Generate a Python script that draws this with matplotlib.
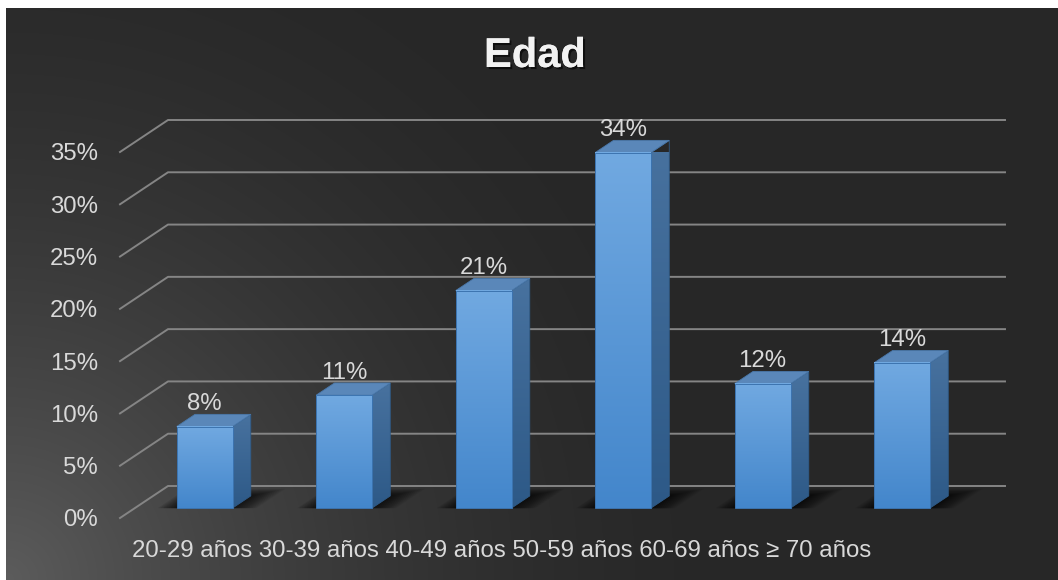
import numpy as np
import matplotlib
matplotlib.use('Agg')
import matplotlib.pyplot as plt
import matplotlib.patheffects as pe
from matplotlib.colors import LinearSegmentedColormap
from matplotlib.patches import Polygon
from matplotlib.ticker import PercentFormatter

categories = ['20-29 años', '30-39 años', '40-49 años', '50-59 años', '60-69 años', '≥ 70 años']
values = [7.8, 10.8, 20.8, 34.0, 11.9, 13.9]
value_labels = ['8%', '11%', '21%', '34%', '12%', '14%']
yticks = [0, 5, 10, 15, 20, 25, 30, 35]
title = 'Edad'

W, H = 1058, 580
# oblique offset of the back wall (in data units: categories / percent)
DX, DY = 48 / 139.5, 32 / 10.457
T0, T1 = 0.31, 0.69      # bar depth (front, back)
BW = 0.4                 # bar width in categories
TXT = '#d9d9d9'
FS = 17.3


def proj(x, y, t):
    return x + t * DX, y + t * DY


plt.rcParams['font.family'] = ['Liberation Sans', 'DejaVu Sans']

fig = plt.figure(figsize=(W / 100, H / 100), dpi=100, facecolor='white')

# dark background with a lighter glow from the lower left corner
bg = fig.add_axes([6 / W, 0, (W - 6) / W, (H - 8) / H])
bw, bh = W - 6, H - 8
xx, yy = np.meshgrid(np.arange(bw), np.arange(bh))
r = np.sqrt(xx ** 2 + (bh - yy) ** 2) / 750
g = (0x27 + (0x5c - 0x27) * np.clip(1 - r, 0, 1) ** 1.8) / 255
bg.imshow(np.dstack([g, g, g]), aspect='auto', extent=[0, 1, 0, 1])
bg.set_axis_off()

ax = fig.add_axes([120 / W, 62 / H, 837 / W, 366 / H])
ax.patch.set_alpha(0)
for s in ax.spines.values():
    s.set_visible(False)

# gridlines: diagonal on the side, horizontal on the back wall
for v in yticks:
    ax.plot([0, DX, len(categories) + DX], [v, v + DY, v + DY],
            color='#858585', lw=1.4, clip_on=False, zorder=1)

front_cmap = LinearSegmentedColormap.from_list('front', ['#71a9e1', '#4386cb'])
side_cmap = LinearSegmentedColormap.from_list('side', ['#48729f', '#2d5987'])
grad = np.linspace(0, 1, 256).reshape(-1, 1)

for i, (v, lab) in enumerate(zip(values, value_labels)):
    x0 = i + 0.5 - BW / 2
    x1 = i + 0.5 + BW / 2

    # soft shadow on the floor
    for e in np.linspace(0.01, 0.17, 12):
        pts = [proj(x0 - e * 0.8, 0, T0), proj(x1 + e, 0, T0),
               proj(x1 + e, 0, T1 + e * 1.3), proj(x0 - e * 0.8, 0, T1 + e * 1.3)]
        ax.add_patch(Polygon(pts, closed=True, facecolor='black', edgecolor='none',
                             alpha=0.08, clip_on=False, zorder=2))

    fx0, fy0 = proj(x0, 0, T0)
    fx1, fy1 = proj(x1, v, T0)
    bx1, by0 = proj(x1, 0, T1)
    bx0, by1 = proj(x0, v, T1)
    bxr, byr = proj(x1, v, T1)

    # side face
    side = Polygon([(fx1, fy0), (bx1, by0), (bxr, byr), (fx1, fy1)], closed=True,
                   facecolor='none', edgecolor='#2f5b88', lw=0.6, clip_on=False, zorder=4)
    ax.add_patch(side)
    im = ax.imshow(grad, cmap=side_cmap, aspect='auto', extent=[fx1, bx1, fy0, byr],
                   zorder=3, clip_on=True)
    im.set_clip_path(side)

    # top face
    ax.add_patch(Polygon([(fx0, fy1), (fx1, fy1), (bxr, byr), (bx0, by1)], closed=True,
                         facecolor='#5a87b9', edgecolor='#4a78aa', lw=0.6,
                         clip_on=False, zorder=4))

    # front face
    ax.imshow(grad, cmap=front_cmap, aspect='auto', extent=[fx0, fx1, fy0, fy1],
              zorder=5, clip_on=False)
    ax.add_patch(Polygon([(fx0, fy0), (fx1, fy0), (fx1, fy1), (fx0, fy1)], closed=True,
                         facecolor='none', edgecolor='#3c74b0', lw=0.7,
                         clip_on=False, zorder=6))

    ax.annotate(lab, xy=(i + 0.5 + T0 * DX, v + T1 * DY), xytext=(0, 3),
                textcoords='offset points', ha='center', va='baseline',
                color=TXT, fontsize=FS, annotation_clip=False, zorder=7)

ax.set_xlim(0, len(categories))
ax.set_ylim(0, 35)
ax.set_xticks([])
ax.set_yticks(yticks)
ax.yaxis.set_major_formatter(PercentFormatter(decimals=0))
ax.tick_params(axis='y', length=0, pad=15.8, labelsize=FS, labelcolor=TXT)

# category labels run together in one line, as in the original
fig.text(132 / W, 1 - 557 / H, ' '.join(categories), ha='left', va='baseline',
         fontsize=FS, color=TXT)

fig.text(535 / W, 1 - 56 / H, title, ha='center', va='center', fontsize=30,
         fontweight='bold', color='#f2f2f2',
         path_effects=[pe.withSimplePatchShadow(offset=(1.5, -1.5), shadow_rgbFace='black',
                                                alpha=0.6), pe.Normal()])

fig.savefig('out.png', dpi=100)
